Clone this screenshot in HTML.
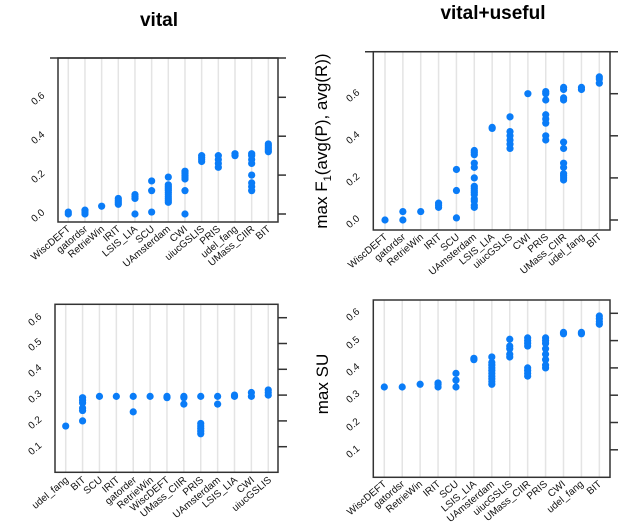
<!DOCTYPE html>
<html><head><meta charset="utf-8"><style>
body{margin:0;background:#fff}
svg{display:block;font-family:"Liberation Sans",Arial,sans-serif}
.t{font-size:10px;fill:#111}
.c{font-size:10px;fill:#111}
</style></head><body>
<svg id="s" width="640" height="524" viewBox="0 0 640 524" xmlns="http://www.w3.org/2000/svg">
<g id="grid" stroke="#e4e4e4" stroke-width="1.5"></g>
<g id="frames" fill="none" stroke="#333" stroke-width="1.5">
<rect x="58" y="58" width="220" height="164"/>
<line x1="50" y1="58" x2="286" y2="58"/>
<line x1="278" y1="97.3" x2="286" y2="97.3"/><line x1="278" y1="136.2" x2="286" y2="136.2"/><line x1="278" y1="175.1" x2="286" y2="175.1"/><line x1="278" y1="214" x2="286" y2="214"/>
<rect x="373.3" y="51.7" width="236.7" height="178.3"/>
<line x1="365" y1="51.7" x2="618" y2="51.7"/>
<line x1="610" y1="93.7" x2="618" y2="93.7"/><line x1="610" y1="135.8" x2="618" y2="135.8"/><line x1="610" y1="177.9" x2="618" y2="177.9"/><line x1="610" y1="220" x2="618" y2="220"/>
<rect x="55" y="304.3" width="223" height="168"/>
<line x1="278" y1="317.7" x2="287" y2="317.7"/><line x1="278" y1="343.5" x2="287" y2="343.5"/><line x1="278" y1="369.3" x2="287" y2="369.3"/><line x1="278" y1="395.1" x2="287" y2="395.1"/><line x1="278" y1="420.9" x2="287" y2="420.9"/><line x1="278" y1="446.7" x2="287" y2="446.7"/>
<rect x="373.3" y="300" width="236.7" height="177.3"/>
<line x1="610" y1="313.3" x2="618" y2="313.3"/><line x1="610" y1="340.6" x2="618" y2="340.6"/><line x1="610" y1="367.9" x2="618" y2="367.9"/><line x1="610" y1="395.2" x2="618" y2="395.2"/><line x1="610" y1="422.5" x2="618" y2="422.5"/><line x1="610" y1="449.8" x2="618" y2="449.8"/>
</g>
<g id="dots" fill="#0a7cf7"></g>
<text x="159" y="26" text-anchor="middle" font-size="19" font-weight="bold">vital</text>
<text x="493" y="19" text-anchor="middle" font-size="19" font-weight="bold">vital+useful</text>
<text transform="translate(327,141) rotate(-90)" text-anchor="middle" font-size="17">max F<tspan font-size="11" dy="4">1</tspan><tspan dy="-4">(avg(P), avg(R))</tspan></text>
<text transform="translate(328,384) rotate(-90)" text-anchor="middle" font-size="17">max SU</text>
<!-- y tick labels -->
<g class="t" text-anchor="middle">
<text transform="translate(40,101) rotate(-40)">0.6</text>
<text transform="translate(40,140) rotate(-40)">0.4</text>
<text transform="translate(40,179) rotate(-40)">0.2</text>
<text transform="translate(40,218) rotate(-40)">0.0</text>
<text transform="translate(355,98) rotate(-40)">0.6</text>
<text transform="translate(355,140) rotate(-40)">0.4</text>
<text transform="translate(355,182) rotate(-40)">0.2</text>
<text transform="translate(355,224) rotate(-40)">0.0</text>
<text transform="translate(37,322) rotate(-40)">0.6</text>
<text transform="translate(37,347) rotate(-40)">0.5</text>
<text transform="translate(37,373) rotate(-40)">0.4</text>
<text transform="translate(37,399) rotate(-40)">0.3</text>
<text transform="translate(37,425) rotate(-40)">0.2</text>
<text transform="translate(37,451) rotate(-40)">0.1</text>
<text transform="translate(355,317) rotate(-40)">0.6</text>
<text transform="translate(355,345) rotate(-40)">0.5</text>
<text transform="translate(355,372) rotate(-40)">0.4</text>
<text transform="translate(355,399) rotate(-40)">0.3</text>
<text transform="translate(355,427) rotate(-40)">0.2</text>
<text transform="translate(355,454) rotate(-40)">0.1</text>
</g>
<g class="c" text-anchor="end" id="cats">
<!-- TL -->
<text transform="translate(71,230) rotate(-40)">WiscDEFT</text>
<text transform="translate(88,230) rotate(-40)">gatordsr</text>
<text transform="translate(105,230) rotate(-40)">RetrieWin</text>
<text transform="translate(121,230) rotate(-40)">IRIT</text>
<text transform="translate(138,230) rotate(-40)">LSIS_LIA</text>
<text transform="translate(155,230) rotate(-40)">SCU</text>
<text transform="translate(171,230) rotate(-40)">UAmsterdam</text>
<text transform="translate(188,230) rotate(-40)">CWI</text>
<text transform="translate(205,230) rotate(-40)">uiucGSLIS</text>
<text transform="translate(221,230) rotate(-40)">PRIS</text>
<text transform="translate(238,230) rotate(-40)">udel_fang</text>
<text transform="translate(255,230) rotate(-40)">UMass_CIIR</text>
<text transform="translate(271,230) rotate(-40)">BIT</text>
<!-- TR -->
<text transform="translate(388,238) rotate(-40)">WiscDEFT</text>
<text transform="translate(406,238) rotate(-40)">gatordsr</text>
<text transform="translate(424,238) rotate(-40)">RetrieWin</text>
<text transform="translate(442,238) rotate(-40)">IRIT</text>
<text transform="translate(460,238) rotate(-40)">SCU</text>
<text transform="translate(477,238) rotate(-40)">UAmsterdam</text>
<text transform="translate(495,238) rotate(-40)">LSIS_LIA</text>
<text transform="translate(513,238) rotate(-40)">uiucGSLIS</text>
<text transform="translate(531,238) rotate(-40)">CWI</text>
<text transform="translate(549,238) rotate(-40)">PRIS</text>
<text transform="translate(567,238) rotate(-40)">UMass_CIIR</text>
<text transform="translate(585,238) rotate(-40)">udel_fang</text>
<text transform="translate(602,238) rotate(-40)">BIT</text>
<!-- BL -->
<text transform="translate(69,481) rotate(-40)">udel_fang</text>
<text transform="translate(86,481) rotate(-40)">BIT</text>
<text transform="translate(103,481) rotate(-40)">SCU</text>
<text transform="translate(120,481) rotate(-40)">IRIT</text>
<text transform="translate(137,481) rotate(-40)">gatorder</text>
<text transform="translate(154,481) rotate(-40)">RetrieWin</text>
<text transform="translate(170,481) rotate(-40)">WiscDEFT</text>
<text transform="translate(187,481) rotate(-40)">UMass_CIIR</text>
<text transform="translate(204,481) rotate(-40)">PRIS</text>
<text transform="translate(221,481) rotate(-40)">UAmsterdam</text>
<text transform="translate(238,481) rotate(-40)">LSIS_LIA</text>
<text transform="translate(255,481) rotate(-40)">CWI</text>
<text transform="translate(272,481) rotate(-40)">uiucGSLIS</text>
<!-- BR -->
<text transform="translate(387,485) rotate(-40)">WiscDEFT</text>
<text transform="translate(405,485) rotate(-40)">gatordsr</text>
<text transform="translate(423,485) rotate(-40)">RetrieWin</text>
<text transform="translate(441,485) rotate(-40)">IRIT</text>
<text transform="translate(459,485) rotate(-40)">SCU</text>
<text transform="translate(477,485) rotate(-40)">LSIS_LIA</text>
<text transform="translate(495,485) rotate(-40)">UAmsterdam</text>
<text transform="translate(513,485) rotate(-40)">uiucGSLIS</text>
<text transform="translate(531,485) rotate(-40)">UMass_CIIR</text>
<text transform="translate(548,485) rotate(-40)">PRIS</text>
<text transform="translate(566,485) rotate(-40)">CWI</text>
<text transform="translate(584,485) rotate(-40)">udel_fang</text>
<text transform="translate(602,485) rotate(-40)">BIT</text>
</g>
</svg>
<script>
var NS="http://www.w3.org/2000/svg";
var panels=[
 {x0:68.3,dx:16.67,y0:214,sc:194.5,top:58,bot:222,base:0,d:[[0,.01],[0,.01,.02],[.04],[.05,.06,.07,.08],[0,.08,.09,.1],[.01,.12,.17],[.06,.07,.08,.09,.1,.11,.12,.13,.14,.15,.19],[0,.12,.18,.19,.2,.21,.22],[.27,.28,.29,.3],[.24,.26,.28,.3],[.3,.31],[.12,.14,.16,.2,.26,.28,.3,.31],[.32,.33,.34,.35,.36]]},
 {x0:385,dx:17.86,y0:220,sc:210.5,top:51.7,bot:230,base:0,d:[[0],[0,.04],[.04],[.06,.07,.08],[.01,.14,.24],[.06,.07,.09,.1,.12,.13,.14,.15,.16,.2,.25,.27,.31,.32,.33],[.435,.44],[.34,.36,.38,.4,.42,.49],[.6],[.38,.4,.46,.48,.5,.57,.6,.61],[.19,.2,.21,.22,.25,.27,.34,.37,.57,.58,.62,.63],[.62,.63],[.65,.67,.68]]},
 {x0:65.7,dx:16.88,y0:446.7,sc:258,top:304.3,bot:472.3,base:.1,d:[[.18],[.2,.24,.25,.27,.28,.29],[.295],[.295],[.235,.295],[.295],[.29,.295],[.265,.29,.295],[.15,.16,.17,.18,.19,.295],[.265,.295],[.295,.3],[.295,.31],[.3,.31,.32]]},
 {x0:384.3,dx:17.92,y0:449.8,sc:273,top:300,bot:477.3,base:.1,d:[[.33],[.33],[.34],[.33,.34,.345],[.33,.355,.38],[.43,.435],[.34,.35,.36,.37,.38,.39,.4,.41,.42,.44],[.44,.45,.47,.48,.505],[.37,.38,.39,.4,.48,.49,.5,.51],[.4,.41,.43,.45,.47,.49,.5,.51],[.525,.53],[.525,.53],[.56,.57,.58,.59]]}
];
var g=document.getElementById("grid"),dg=document.getElementById("dots");
panels.forEach(function(p){
 p.d.forEach(function(vals,i){
  var x=p.x0+i*p.dx;
  var l=document.createElementNS(NS,"line");
  l.setAttribute("x1",x);l.setAttribute("x2",x);l.setAttribute("y1",p.top);l.setAttribute("y2",p.bot);g.appendChild(l);
  vals.forEach(function(v){
   var c=document.createElementNS(NS,"circle");
   c.setAttribute("cx",x);c.setAttribute("cy",p.y0-(v-p.base)*p.sc);c.setAttribute("r",3.6);dg.appendChild(c);
  });
 });
});
</script>
</body></html>
